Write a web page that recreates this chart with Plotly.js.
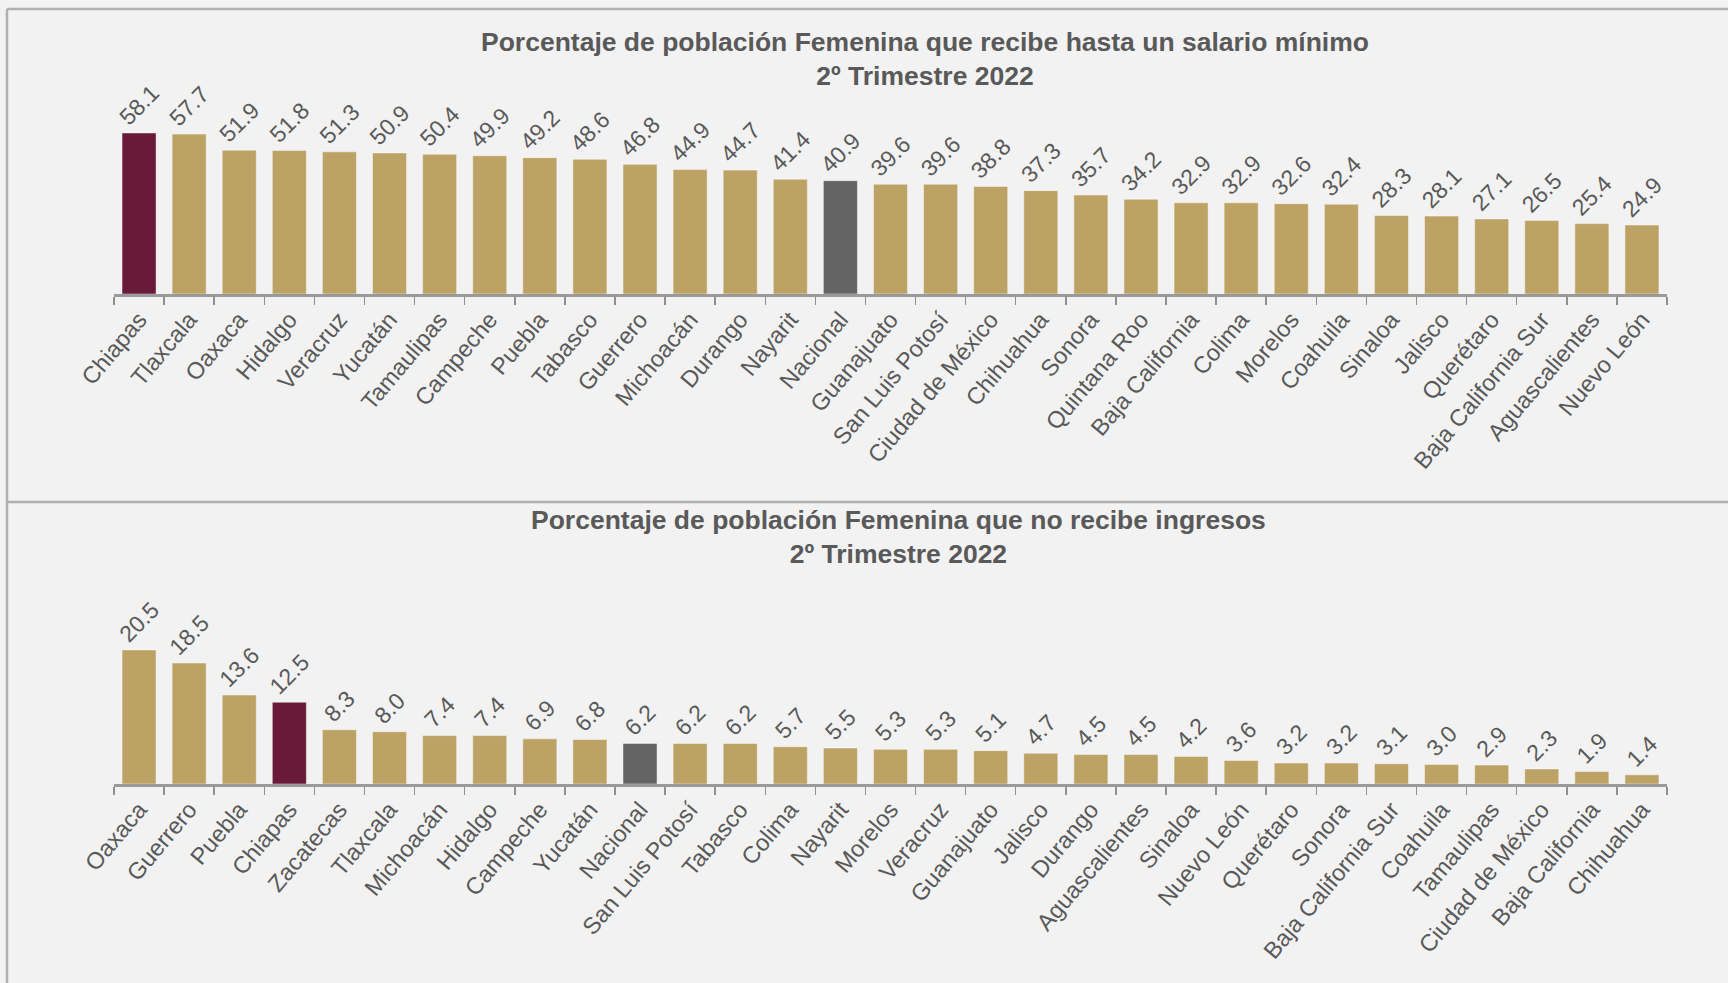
<!DOCTYPE html>
<html>
<head>
<meta charset="utf-8">
<script src="https://cdn.plot.ly/plotly-3.0.1.min.js"></script>
<style>
  html, body { margin: 0; padding: 0; background: #F2F2F2; }
  #chart { width: 1728px; height: 983px; }
</style>
</head>
<body>
<div id="chart"></div>
<script>
// ---- Data ----
const categoriasSalario = ["Chiapas","Tlaxcala","Oaxaca","Hidalgo","Veracruz","Yucatán","Tamaulipas","Campeche","Puebla","Tabasco","Guerrero","Michoacán","Durango","Nayarit","Nacional","Guanajuato","San Luis Potosí","Ciudad de México","Chihuahua","Sonora","Quintana Roo","Baja California","Colima","Morelos","Coahuila","Sinaloa","Jalisco","Querétaro","Baja California Sur","Aguascalientes","Nuevo León"];
const valoresSalario = [58.1,57.7,51.9,51.8,51.3,50.9,50.4,49.9,49.2,48.6,46.8,44.9,44.7,41.4,40.9,39.6,39.6,38.8,37.3,35.7,34.2,32.9,32.9,32.6,32.4,28.3,28.1,27.1,26.5,25.4,24.9];

const categoriasIngresos = ["Oaxaca","Guerrero","Puebla","Chiapas","Zacatecas","Tlaxcala","Michoacán","Hidalgo","Campeche","Yucatán","Nacional","San Luis Potosí","Tabasco","Colima","Nayarit","Morelos","Veracruz","Guanajuato","Jalisco","Durango","Aguascalientes","Sinaloa","Nuevo León","Querétaro","Sonora","Baja California Sur","Coahuila","Tamaulipas","Ciudad de México","Baja California","Chihuahua"];
const valoresIngresos = [20.5,18.5,13.6,12.5,8.3,8.0,7.4,7.4,6.9,6.8,6.2,6.2,6.2,5.7,5.5,5.3,5.3,5.1,4.7,4.5,4.5,4.2,3.6,3.2,3.2,3.1,3.0,2.9,2.3,1.9,1.4];

const tituloSalario = "Porcentaje de población Femenina que recibe hasta un salario mínimo";
const tituloIngresos = "Porcentaje de población Femenina que no recibe ingresos";
const subtitulo = "2º Trimestre 2022";
const estadoDestacado = "Chiapas";
const agregadoNacional = "Nacional";

// ---- Styles ----
const W = 1728, H = 983;
const GOLD = "#BCA265", MAROON = "#6A1A39", GRAY = "#646464";
const TXT = "#595959";
const FONT = "Liberation Sans, Arial, sans-serif";
function colorFor(c) { return c === estadoDestacado ? MAROON : (c === agregadoNacional ? GRAY : GOLD); }
const px2x = p => p / W;
const px2y = p => 1 - p / H;

function barTrace(cats, vals, xa, ya) {
  return {
    type: "bar",
    x: cats, y: vals, xaxis: xa, yaxis: ya,
    marker: { color: cats.map(colorFor), line: { color: "rgba(255,255,255,0.45)", width: 1 } },
    texttemplate: "%{y:.1f}",
    textposition: "outside",
    textangle: -45,
    constraintext: "none",
    cliponaxis: false,
    textfont: { family: FONT, size: 23, color: TXT },
    hoverinfo: "x+y",
    showlegend: false
  };
}

const xDomain = [px2x(114), px2x(1667)];
const xAxisStyle = {
  domain: xDomain,
  type: "category",
  tickson: "boundaries",
  ticks: "outside",
  ticklen: 8,
  tickwidth: 1.5,
  tickcolor: "#8F8F8F",
  showline: true,
  linecolor: "#9A9A9A",
  linewidth: 2.5,
  tickangle: -50,
  tickfont: { family: FONT, size: 23.5, color: TXT },
  showgrid: false,
  zeroline: false,
  fixedrange: true
};

const layout = {
  width: W, height: H,
  margin: { l: 0, r: 0, t: 0, b: 0 },
  paper_bgcolor: "#F2F2F2",
  plot_bgcolor: "#F2F2F2",
  bargap: 0.32,
  xaxis: Object.assign({}, xAxisStyle, { anchor: "y" }),
  yaxis: { domain: [px2y(294), px2y(100)], range: [0, 70], visible: false, fixedrange: true },
  xaxis2: Object.assign({}, xAxisStyle, { anchor: "y2" }),
  yaxis2: { domain: [px2y(784), px2y(620.5)], range: [0, 25], visible: false, fixedrange: true },
  annotations: [
    { xref: "paper", yref: "paper", x: px2x(925), y: px2y(58.5), xanchor: "center", yanchor: "middle",
      text: "<b>" + tituloSalario + "</b><br><b>" + subtitulo + "</b>", showarrow: false,
      font: { family: FONT, size: 26.5, color: TXT } },
    { xref: "paper", yref: "paper", x: px2x(898), y: px2y(536.5), xanchor: "center", yanchor: "middle",
      text: "<b>" + tituloIngresos + "</b><br><b>" + subtitulo + "</b>", showarrow: false,
      font: { family: FONT, size: 26.5, color: TXT } }
  ],
  shapes: [
    { type: "line", xref: "paper", yref: "paper", x0: px2x(7), x1: 1, y0: px2y(9), y1: px2y(9), line: { color: "#B0B0B0", width: 2.5 } },
    { type: "line", xref: "paper", yref: "paper", x0: px2x(7), x1: px2x(7), y0: px2y(9), y1: 0, line: { color: "#B0B0B0", width: 2.5 } },
    { type: "line", xref: "paper", yref: "paper", x0: px2x(7), x1: 1, y0: px2y(502), y1: px2y(502), line: { color: "#B0B0B0", width: 2.5 } }
  ]
};

Plotly.newPlot("chart", [
  barTrace(categoriasSalario, valoresSalario, "x", "y"),
  barTrace(categoriasIngresos, valoresIngresos, "x2", "y2")
], layout, { displayModeBar: false, staticPlot: true });
</script>
</body>
</html>
